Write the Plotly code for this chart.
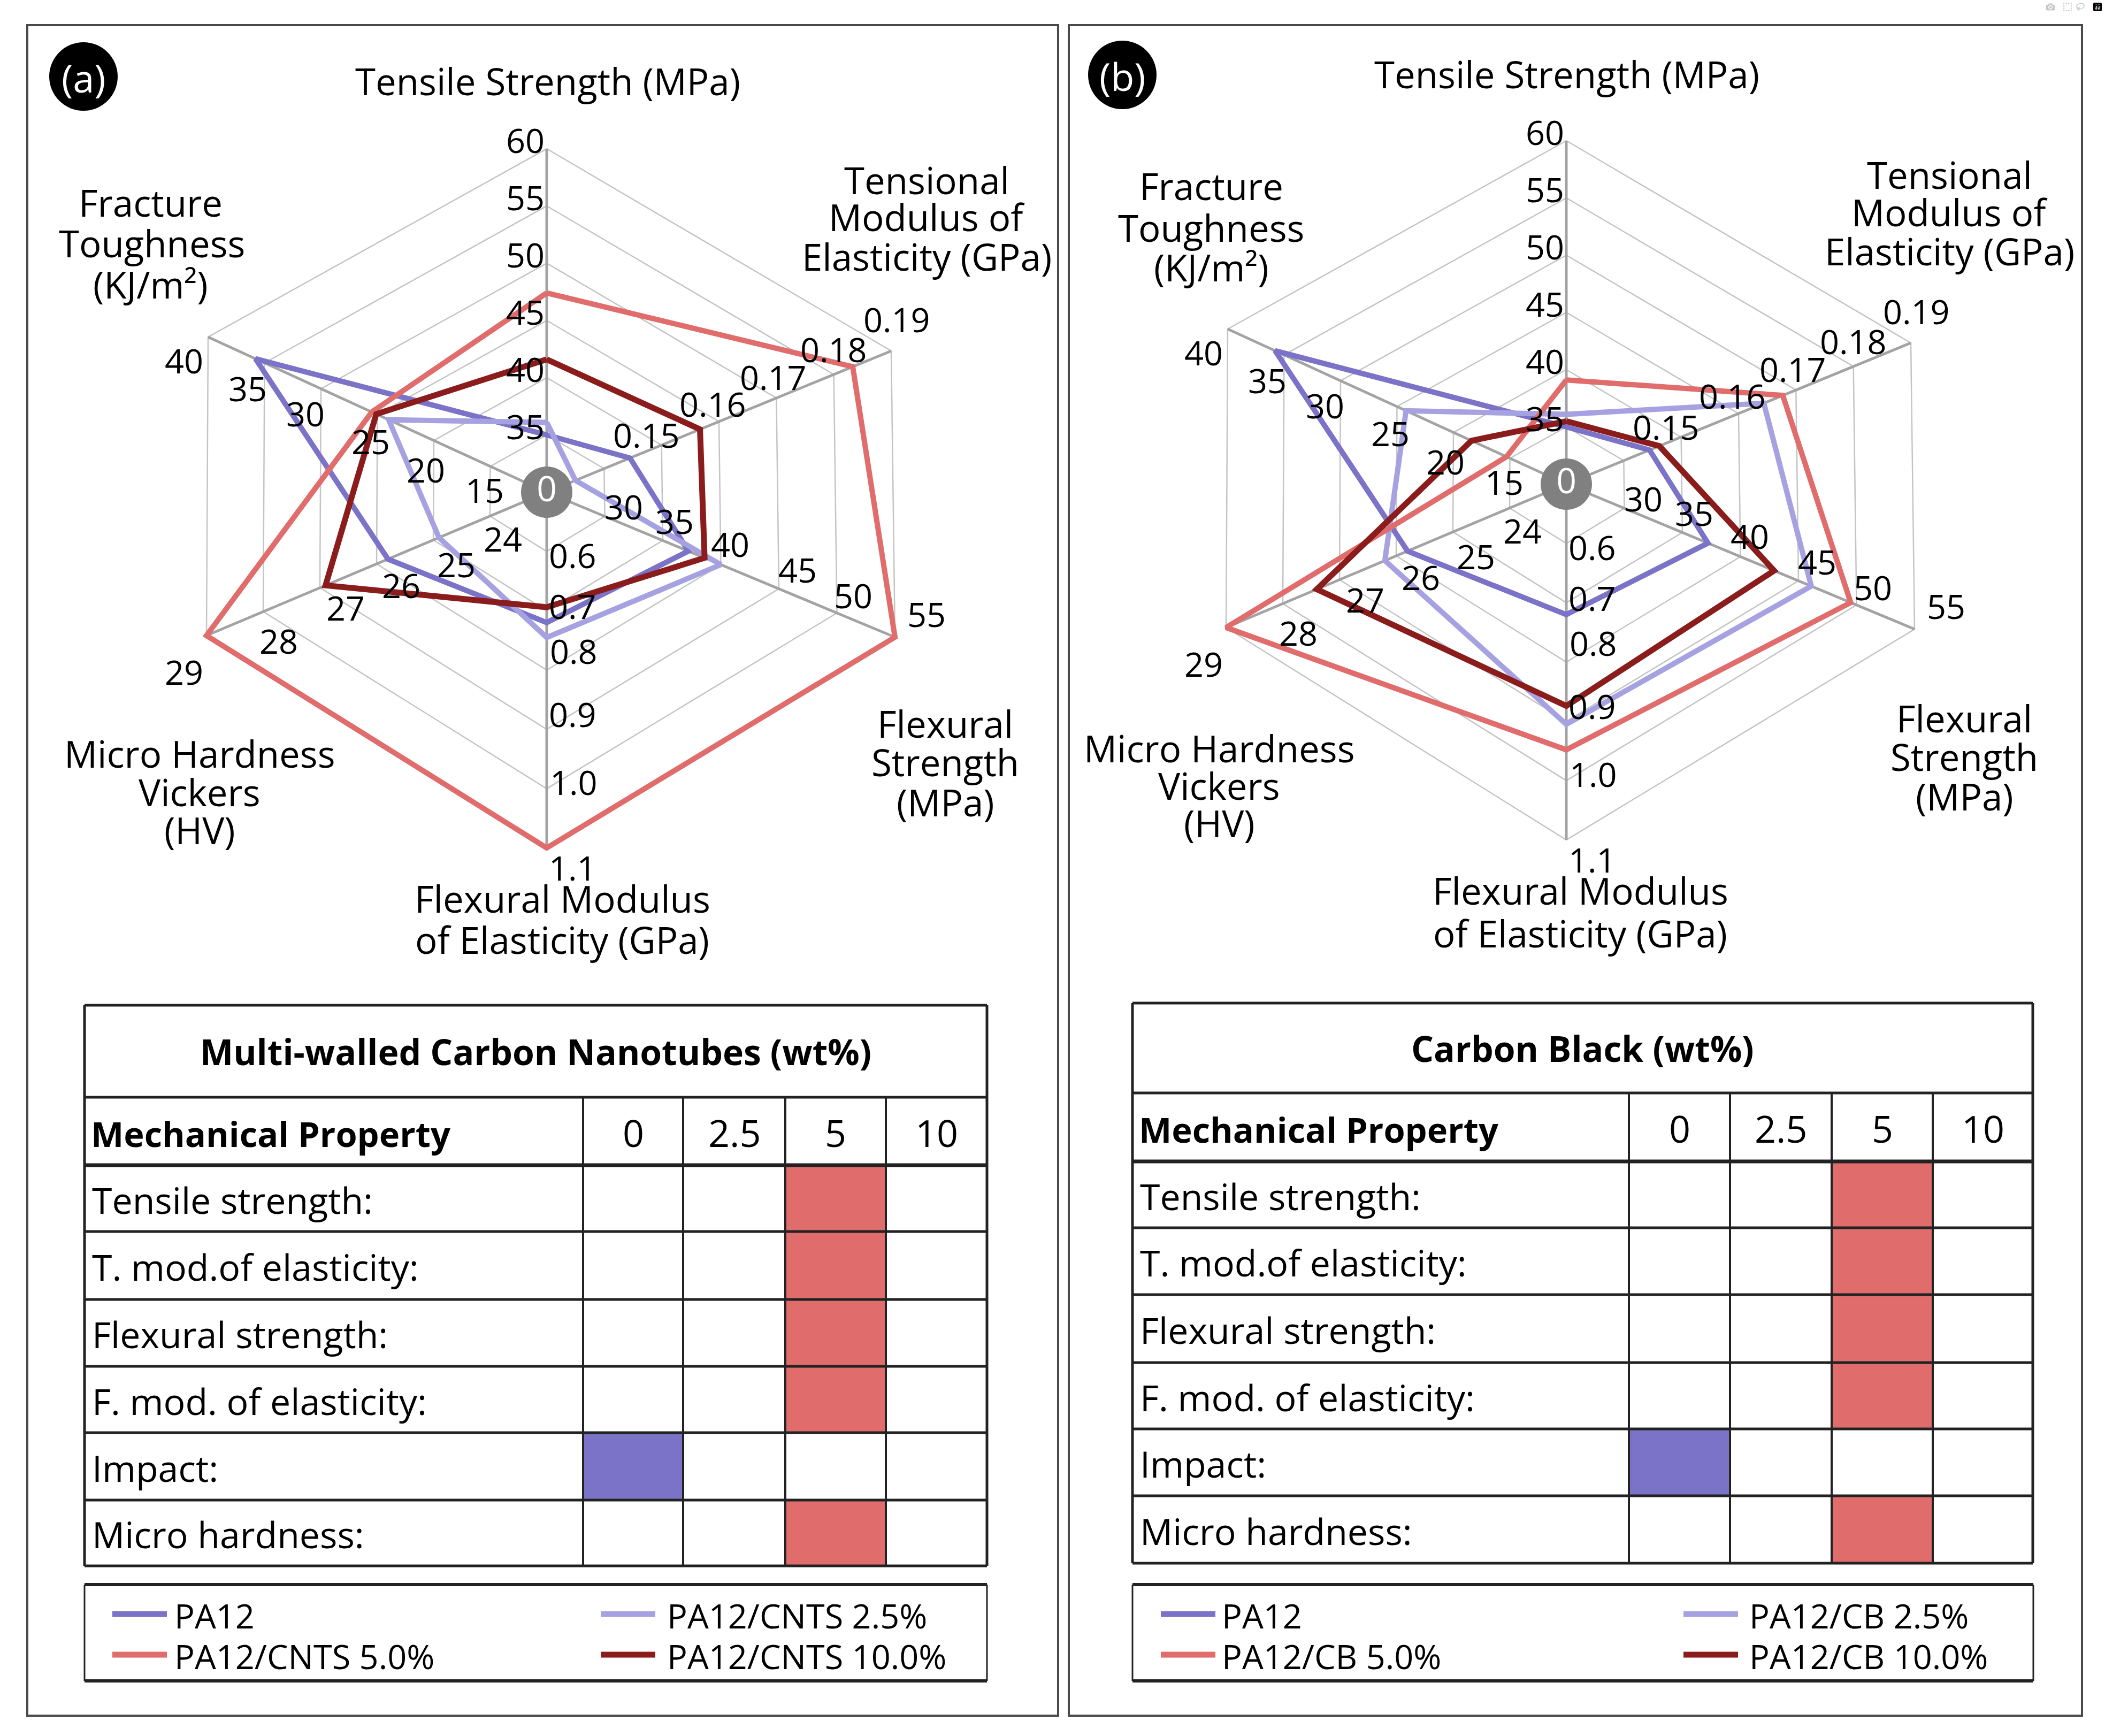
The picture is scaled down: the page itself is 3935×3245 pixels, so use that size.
import plotly.graph_objects as go

W, H = 3935, 3245

# ---------------- data ----------------
axis_titles = [
    ["Tensile Strength (MPa)"],
    ["Tensional", "Modulus of", "Elasticity (GPa)"],
    ["Flexural", "Strength", "(MPa)"],
    ["Flexural Modulus", "of Elasticity (GPa)"],
    ["Micro Hardness", "Vickers", "(HV)"],
    ["Fracture", "Toughness", "(KJ/m²)"],
]
axis_center_value = [30, 0.13, 25, 0.5, 23, 10]     # value at the centre of each axis
axis_ring_step = [5, 0.01, 5, 0.1, 1, 5]            # value per grid ring
axis_tick_labels = [
    ["35", "40", "45", "50", "55", "60"],
    ["", "0.15", "0.16", "0.17", "0.18", "0.19"],
    ["30", "35", "40", "45", "50", "55"],
    ["0.6", "0.7", "0.8", "0.9", "1.0", "1.1"],
    ["24", "25", "26", "27", "28", "29"],
    ["15", "20", "25", "30", "35", "40"],
]
center_label = "0"

# order: Tensile, Tensional modulus, Flexural strength, Flexural modulus, Micro hardness, Fracture toughness
pa12      = [35.0, 0.1445, 37.2, 0.720, 25.8, 35.8]
cnts_2_5  = [36.1, 0.1350, 40.0, 0.745, 24.9, 24.0]
cnts_5_0  = [47.4, 0.1833, 55.0, 1.100, 29.0, 25.5]
cnts_10_0 = [41.6, 0.1567, 38.6, 0.694, 26.9, 25.1]
cb_2_5    = [36.1, 0.1644, 46.1, 0.905, 26.2, 24.2]
cb_5_0    = [39.1, 0.1677, 49.5, 0.948, 29.0, 15.3]
cb_10_0   = [35.5, 0.1462, 42.9, 0.874, 27.4, 18.4]

names_cnts = ["PA12", "PA12/CNTS 2.5%", "PA12/CNTS 5.0%", "PA12/CNTS 10.0%"]
names_cb = ["PA12", "PA12/CB 2.5%", "PA12/CB 5.0%", "PA12/CB 10.0%"]

table_titles = ["Multi-walled Carbon Nanotubes (wt%)", "Carbon Black (wt%)"]
table_header = "Mechanical Property"
table_cols = ["0", "2.5", "5", "10"]
table_rows = ["Tensile strength:", "T. mod.of elasticity:", "Flexural strength:",
              "F. mod. of elasticity:", "Impact:", "Micro hardness:"]
best_cnts = ["5", "5", "5", "5", "0", "5"]
best_cb = ["5", "5", "5", "5", "0", "5"]
panel_tags = ["(a)", "(b)"]

# ---------------- style / geometry ----------------
FONT = "Open Sans"
series_colors = ["#7B73C8", "#A6A2E1", "#E06C6C", "#8B1C1C"]
series_widths = [10, 10, 10, 11]
best_color = {"0": series_colors[0], "5": series_colors[2]}

axis_vec = [(0, -642), (644, -264), (651, 271), (0, 665), (-636, 268), (-633, -290)]
N_RINGS = 6
tick_offsets = [
    [(-40, -17)] * 6,
    [(0, 0), (-28, -20), (-12, -34), (-6, -40), (0, -48), (10, -60)],
    [(35, -19), (22, -37), (17, -39), (35, -36), (30, -33), (59, -44)],
    [(48, 7), (48, -9), (50, -36), (48, -29), (50, -13), (48, 36)],
    [(24, 42), (43, 45), (46, 39), (48, 37), (29, 54), (-42, 67)],
    [(-11, 44), (-15, 54), (-13, 49), (-29, 46), (-32, 47), (-45, 43)],
]

panels = [
    dict(center=(1022, 920), frame=(51, 47, 1978, 3207), tag=(156, 143),
         titles=[[(1024, 151)], [(1732, 336), (1732, 405), (1732, 479)],
                 [(1767, 1352), (1767, 1424), (1767, 1499)], [(1051, 1679), (1051, 1756)],
                 [(373, 1408), (373, 1480), (373, 1551)], [(281, 378), (284, 454), (281, 531)]],
         tx=[158, 1090, 1277, 1468, 1656, 1845],
         ty=[1879, 2051, 2178, 2302, 2429, 2554, 2678, 2804, 2927],
         legend=(158, 2962, 1845, 3142), leg_x=[(210, 312, 324), (1123, 1225, 1245)],
         leg_y=[3017, 3093],
         series=[pa12, cnts_2_5, cnts_5_0, cnts_10_0], names=names_cnts,
         best=best_cnts, table_title=table_titles[0], tagtext=panel_tags[0]),
    dict(center=(2928, 905), frame=(1998, 47, 3892, 3207), tag=(2098, 140),
         titles=[[(2929, 138)], [(3644, 326), (3644, 396), (3644, 469)],
                 [(3672, 1342), (3672, 1414), (3672, 1488)], [(2954, 1664), (2954, 1744)],
                 [(2279, 1398), (2279, 1468), (2279, 1538)], [(2264, 347), (2264, 425), (2264, 499)]],
         tx=[2117, 3045, 3234, 3424, 3613, 3800],
         ty=[1875, 2043, 2171, 2295, 2420, 2547, 2671, 2796, 2922],
         legend=(2117, 2962, 3801, 3142), leg_x=[(2170, 2272, 2282), (3147, 3249, 3268)],
         leg_y=[3017, 3093],
         series=[pa12, cb_2_5, cb_5_0, cb_10_0], names=names_cb,
         best=best_cb, table_title=table_titles[1], tagtext=panel_tags[1]),
]


def to_xy(center, i, v):
    f = (v - axis_center_value[i]) / (axis_ring_step[i] * N_RINGS)
    return center[0] + f * axis_vec[i][0], center[1] + f * axis_vec[i][1]


fig = go.Figure()
shapes = []
ann = []


def text(x, y, s, size, color="black", bold=False, xanchor="center", yanchor="middle"):
    ann.append(dict(x=x, y=y, xref="x", yref="y", text=("<b>%s</b>" % s) if bold else s,
                    showarrow=False, xanchor=xanchor, yanchor=yanchor,
                    font=dict(family=FONT, size=size, color=color)))


for p in panels:
    cx, cy = p["center"]
    # frame
    x0, y0, x1, y1 = p["frame"]
    shapes.append(dict(type="rect", xref="x", yref="y", x0=x0, y0=y0, x1=x1, y1=y1,
                       line=dict(color="#4a4a4a", width=4)))
    # rings
    rx, ry = [], []
    for k in range(1, N_RINGS + 1):
        for i in list(range(6)) + [0]:
            v = axis_center_value[i] + axis_ring_step[i] * k
            x, y = to_xy(p["center"], i, v)
            rx.append(x); ry.append(y)
        rx.append(None); ry.append(None)
    fig.add_trace(go.Scatter(x=rx, y=ry, mode="lines", line=dict(color="#c4c4c4", width=2.5),
                             hoverinfo="skip", showlegend=False))
    # spokes
    sx, sy = [], []
    for i in range(6):
        x, y = to_xy(p["center"], i, axis_center_value[i] + axis_ring_step[i] * N_RINGS)
        sx += [cx, x, None]; sy += [cy, y, None]
    fig.add_trace(go.Scatter(x=sx, y=sy, mode="lines", line=dict(color="#a3a3a3", width=5),
                             hoverinfo="skip", showlegend=False))
    # series
    for vals, name, col, lw in zip(p["series"], p["names"], series_colors, series_widths):
        pts = [to_xy(p["center"], i, v) for i, v in enumerate(vals)]
        pts.append(pts[0])
        fig.add_trace(go.Scatter(x=[q[0] for q in pts], y=[q[1] for q in pts], mode="lines",
                                 line=dict(color=col, width=lw), name=name, showlegend=False))
    # centre label
    fig.add_trace(go.Scatter(x=[cx], y=[cy], mode="markers+text", text=[center_label],
                             textposition="middle center",
                             textfont=dict(family=FONT, size=66, color="white"),
                             marker=dict(size=96, color="#808080", line=dict(width=0)),
                             hoverinfo="skip", showlegend=False))
    # tick labels
    for i in range(6):
        for k, lab in enumerate(axis_tick_labels[i]):
            if not lab:
                continue
            v = axis_center_value[i] + axis_ring_step[i] * (k + 1)
            x, y = to_xy(p["center"], i, v)
            ox, oy = tick_offsets[i][k]
            text(x + ox, y + oy, lab, 63)
    # axis titles
    for i in range(6):
        for line, (x, y) in zip(axis_titles[i], p["titles"][i]):
            text(x, y, line, 69)
    # panel tag
    tx_, ty_ = p["tag"]
    shapes.append(dict(type="circle", xref="x", yref="y", x0=tx_ - 64, y0=ty_ - 64,
                       x1=tx_ + 64, y1=ty_ + 64, fillcolor="black", line=dict(width=0)))
    text(tx_, ty_ + 2, p["tagtext"], 72, color="white")

    # table
    X, Y = p["tx"], p["ty"]
    for r, best in enumerate(p["best"]):
        c = table_cols.index(best)
        shapes.append(dict(type="rect", xref="x", yref="y", x0=X[c + 1], x1=X[c + 2],
                           y0=Y[r + 2], y1=Y[r + 3], fillcolor=best_color[best],
                           line=dict(width=0), layer="below"))
    for j, yy in enumerate(Y):
        shapes.append(dict(type="line", xref="x", yref="y", x0=X[0], x1=X[-1], y0=yy, y1=yy,
                           line=dict(color="#222222", width=7 if j == 2 else 5)))
    for j, xx in enumerate(X):
        ytop = Y[0] if j in (0, len(X) - 1) else Y[1]
        shapes.append(dict(type="line", xref="x", yref="y", x0=xx, x1=xx, y0=ytop, y1=Y[-1],
                           line=dict(color="#222222", width=5 if j in (0, len(X) - 1) else 4)))
    text((X[0] + X[-1]) / 2, (Y[0] + Y[1]) / 2, p["table_title"], 66, bold=True)
    text(X[0] + 10, (Y[1] + Y[2]) / 2 + 4, table_header, 65, bold=True, xanchor="left")
    for c, lab in enumerate(table_cols):
        text((X[c + 1] + X[c + 2]) / 2, (Y[1] + Y[2]) / 2 + 2, lab, 70)
    for r, lab in enumerate(table_rows):
        text(X[0] + 12, (Y[r + 2] + Y[r + 3]) / 2 + 2, lab, 68, xanchor="left")

    # legend
    lx0, ly0, lx1, ly1 = p["legend"]
    shapes.append(dict(type="line", xref="x", yref="y", x0=lx0, x1=lx1, y0=ly0, y1=ly0,
                       line=dict(color="#222222", width=6)))
    shapes.append(dict(type="line", xref="x", yref="y", x0=lx0, x1=lx1, y0=ly1, y1=ly1,
                       line=dict(color="#222222", width=6)))
    for xx in (lx0, lx1):
        shapes.append(dict(type="line", xref="x", yref="y", x0=xx, x1=xx, y0=ly0, y1=ly1,
                           line=dict(color="#222222", width=3)))
    order = [(0, 0, 0), (1, 0, 1), (2, 1, 0), (3, 1, 1)]  # series, row, col
    for s, row, col in order:
        a, b, t = p["leg_x"][col]
        yy = p["leg_y"][row]
        shapes.append(dict(type="line", xref="x", yref="y", x0=a, x1=b, y0=yy, y1=yy,
                           line=dict(color=series_colors[s], width=11)))
        text(t, yy + 2, p["names"][s], 63, xanchor="left")

fig.update_layout(
    width=W, height=H, margin=dict(l=0, r=0, t=0, b=0),
    paper_bgcolor="white", plot_bgcolor="white",
    xaxis=dict(range=[0, W], visible=False, fixedrange=True),
    yaxis=dict(range=[H, 0], visible=False, fixedrange=True),
    shapes=shapes, annotations=ann, showlegend=False,
)

fig.write_html("out.html", post_script="document.body.style.margin='0';")
